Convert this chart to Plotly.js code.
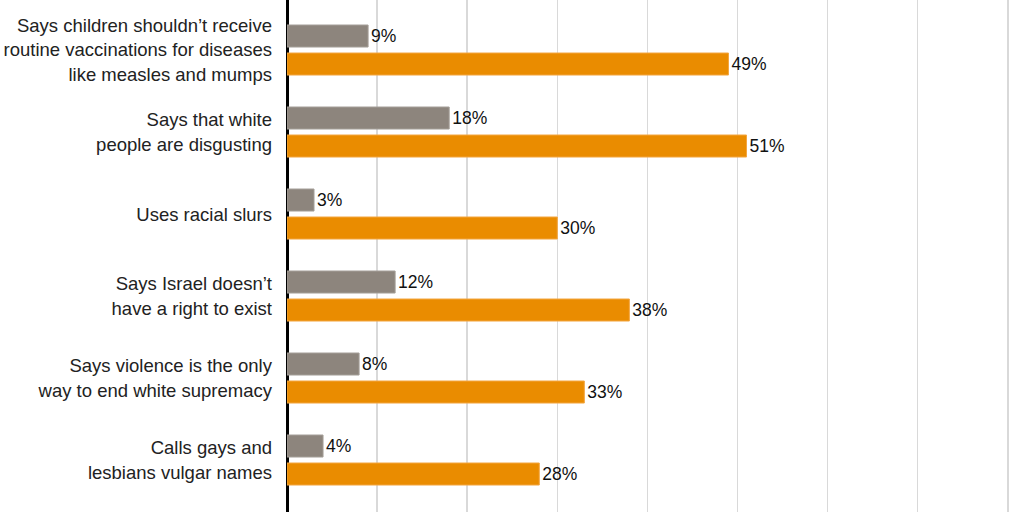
<!DOCTYPE html>
<html>
<head>
<meta charset="utf-8">
<script src="https://cdn.plot.ly/plotly-3.0.1.min.js"></script>
<style>
  html, body { margin: 0; padding: 0; background: #fff; }
  #chart { width: 1024px; height: 512px; }
</style>
</head>
<body>
<div id="chart"></div>
<script>
const categories = [
    'Says children shouldn’t receive<br>routine vaccinations for diseases<br>like measles and mumps',
    'Says that white<br>people are disgusting',
    'Uses racial slurs',
    'Says Israel doesn’t<br>have a right to exist',
    'Says violence is the only<br>way to end white supremacy',
    'Calls gays and<br>lesbians vulgar names'
];
const grayValues = [9, 18, 3, 12, 8, 4];
const orangeValues = [49, 51, 30, 38, 33, 28];

const labelFont = {family: 'Liberation Sans, Arial, sans-serif', size: 17.5, color: '#111'};

const traceGray = {
    type: 'bar',
    orientation: 'h',
    name: 'Gray',
    y: categories,
    x: grayValues,
    marker: {color: '#8d857d', line: {color: '#a59f99', width: 1}},
    texttemplate: '%{x}%',
    textposition: 'outside',
    textfont: labelFont,
    constraintext: 'none',
    cliponaxis: false,
    hoverinfo: 'skip'
};

const traceOrange = {
    type: 'bar',
    orientation: 'h',
    name: 'Orange',
    y: categories,
    x: orangeValues,
    marker: {color: '#ea8c00', line: {color: '#f3a640', width: 1}},
    texttemplate: '%{x}%',
    textposition: 'outside',
    textfont: labelFont,
    constraintext: 'none',
    cliponaxis: false,
    hoverinfo: 'skip'
};

const layout = {
    width: 1024,
    height: 512,
    margin: {l: 287, r: 0, t: 0, b: 0},
    paper_bgcolor: '#fff',
    plot_bgcolor: '#fff',
    showlegend: false,
    barmode: 'group',
    bargap: 0.317,
    bargroupgap: 0.214,
    font: {family: 'Liberation Sans, Arial, sans-serif', size: 18.5, color: '#222'},
    xaxis: {
        range: [0, 81.8],
        dtick: 10,
        showticklabels: false,
        showgrid: true,
        gridcolor: '#d9d9d9',
        gridwidth: 1.5,
        zeroline: true,
        zerolinecolor: '#000',
        zerolinewidth: 3,
        fixedrange: true
    },
    yaxis: {
        type: 'category',
        range: [5.634, -0.61],
        showgrid: false,
        zeroline: false,
        showline: false,
        ticks: '',
        ticklabelstandoff: 14,
        tickfont: {family: 'Liberation Sans, Arial, sans-serif', size: 18.5, color: '#222'},
        fixedrange: true
    }
};

Plotly.newPlot('chart', [traceGray, traceOrange], layout, {displayModeBar: false, staticPlot: true});
</script>
</body>
</html>
